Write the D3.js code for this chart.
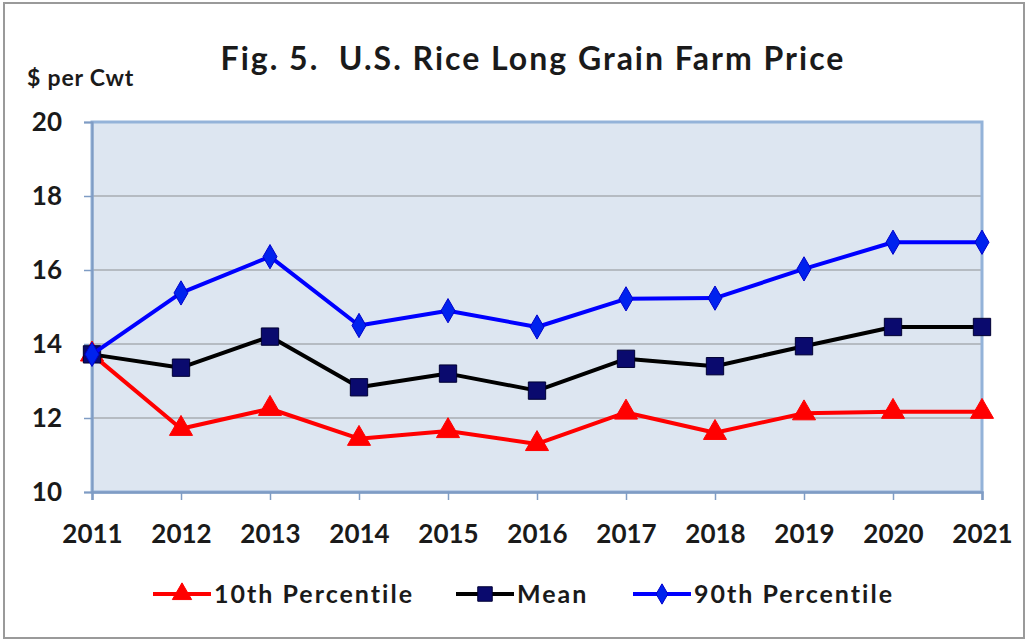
<!DOCTYPE html>
<html>
<head>
<meta charset="utf-8">
<script src="https://cdn.jsdelivr.net/npm/d3@7"></script>
<style>
  body { margin: 0; background: #fff; }
  text { font-family: Lato, "Open Sans", sans-serif; font-weight: bold; fill: #1a1a1a; white-space: pre; }
</style>
</head>
<body>
<div id="chart"></div>
<script>
var years = [2011, 2012, 2013, 2014, 2015, 2016, 2017, 2018, 2019, 2020, 2021];
var p10 = [13.72, 11.71, 12.25, 11.44, 11.65, 11.3, 12.15, 11.6, 12.13, 12.17, 12.17];
var mean = [13.72, 13.36, 14.2, 12.83, 13.2, 12.74, 13.6, 13.4, 13.94, 14.46, 14.46];
var p90 = [13.72, 15.38, 16.36, 14.5, 14.9, 14.46, 15.22, 15.24, 16.03, 16.75, 16.75];
var yTicks = [10, 12, 14, 16, 18, 20];

var W = 1032, H = 641;
var margin = {top: 122, right: 50, bottom: 149, left: 92},
    width = W - margin.left - margin.right,
    height = H - margin.top - margin.bottom;

var svg = d3.select("#chart").append("svg")
    .attr("width", W)
    .attr("height", H);

// outer frame
svg.append("rect")
    .attr("x", 4).attr("y", 3)
    .attr("width", 1020).attr("height", 635)
    .attr("fill", "#fff")
    .attr("stroke", "#9a9a9a")
    .attr("stroke-width", 2);

svg.append("text")
    .attr("x", 533).attr("y", 70)
    .attr("text-anchor", "middle")
    .style("font-size", "32px")
    .style("letter-spacing", "2px")
    .text("Fig. 5.  U.S. Rice Long Grain Farm Price");

svg.append("text")
    .attr("x", 27).attr("y", 86)
    .style("font-size", "23px")
    .style("letter-spacing", "0.8px")
    .text("$ per Cwt");

var g = svg.append("g")
    .attr("transform", "translate(" + margin.left + "," + margin.top + ")");

var x = d3.scaleLinear().domain([2011, 2021]).range([0, width]);
var y = d3.scaleLinear().domain([10, 20]).range([height, 0]);

g.append("rect")
    .attr("width", width).attr("height", height)
    .attr("fill", "#dde6f1");

// gridlines
g.selectAll(".grid")
    .data(yTicks.filter(function(d) { return d > 10 && d < 20; }))
    .enter().append("line")
        .attr("x1", 0).attr("x2", width)
        .attr("y1", function(d) { return y(d); })
        .attr("y2", function(d) { return y(d); })
        .attr("stroke", "#8d8f94")
        .attr("stroke-width", 1.2);

// plot border
g.append("rect")
    .attr("width", width).attr("height", height)
    .attr("fill", "none")
    .attr("stroke", "#94b3d9")
    .attr("stroke-width", 3);

// axes
var yAxis = d3.axisLeft(y).tickValues(yTicks).tickSize(8).tickPadding(22);
var yG = g.append("g").call(yAxis);
yG.select(".domain").attr("stroke", "#7f9cc4").attr("stroke-width", 2);
yG.selectAll(".tick line").attr("stroke", "#7f9cc4").attr("stroke-width", 1.5);
yG.selectAll("text").style("font-size", "26px")
    .style("font-family", "Lato, sans-serif").attr("fill", "#1a1a1a");

var xAxis = d3.axisBottom(x).tickValues(years).tickFormat(d3.format("d")).tickSize(8).tickPadding(25);
var xG = g.append("g").attr("transform", "translate(0," + height + ")").call(xAxis);
xG.select(".domain").attr("stroke", "#7f9cc4").attr("stroke-width", 2.5);
xG.selectAll(".tick line").attr("stroke", "#7f9cc4").attr("stroke-width", 1.5);
xG.selectAll("text").style("font-size", "26px")
    .style("font-family", "Lato, sans-serif").attr("fill", "#1a1a1a");

var series = [
    {name: "10th Percentile", values: p10, color: "#ff0000", marker: d3.symbolTriangle, mfill: "#ff0000", mstroke: "#ff0000", size: 230},
    {name: "Mean", values: mean, color: "#000000", marker: d3.symbolSquare, mfill: "#0a0a6e", mstroke: "#000033", size: 300},
    {name: "90th Percentile", values: p90, color: "#0000ff", marker: d3.symbolDiamond, mfill: "#0022ee", mstroke: "#0000cc", size: 170}
];

var line = d3.line()
    .x(function(d, i) { return x(years[i]); })
    .y(function(d) { return y(d); });

series.forEach(function(s) {
    g.append("path")
        .datum(s.values)
        .attr("fill", "none")
        .attr("stroke", s.color)
        .attr("stroke-width", 4)
        .attr("stroke-linejoin", "round")
        .attr("d", line);
    g.selectAll(null)
        .data(s.values)
        .enter().append("path")
            .attr("transform", function(d, i) { return "translate(" + x(years[i]) + "," + y(d) + ")"; })
            .attr("d", d3.symbol().type(s.marker).size(s.size))
            .attr("fill", s.mfill)
            .attr("stroke", s.mstroke)
            .attr("stroke-width", 1);
});

// legend
var legendX = [153, 456, 633];
var leg = svg.append("g");
series.forEach(function(s, i) {
    var lg = leg.append("g").attr("transform", "translate(" + legendX[i] + ",594)");
    lg.append("line")
        .attr("x1", 0).attr("x2", 58)
        .attr("stroke", s.color).attr("stroke-width", 4);
    lg.append("path")
        .attr("transform", "translate(29,0)")
        .attr("d", d3.symbol().type(s.marker).size(s.size * 0.7))
        .attr("fill", s.mfill).attr("stroke", s.mstroke);
    lg.append("text")
        .attr("x", 61).attr("y", 9)
        .style("font-size", "25px")
        .style("letter-spacing", "2px")
        .text(s.name);
});
</script>
</body>
</html>
